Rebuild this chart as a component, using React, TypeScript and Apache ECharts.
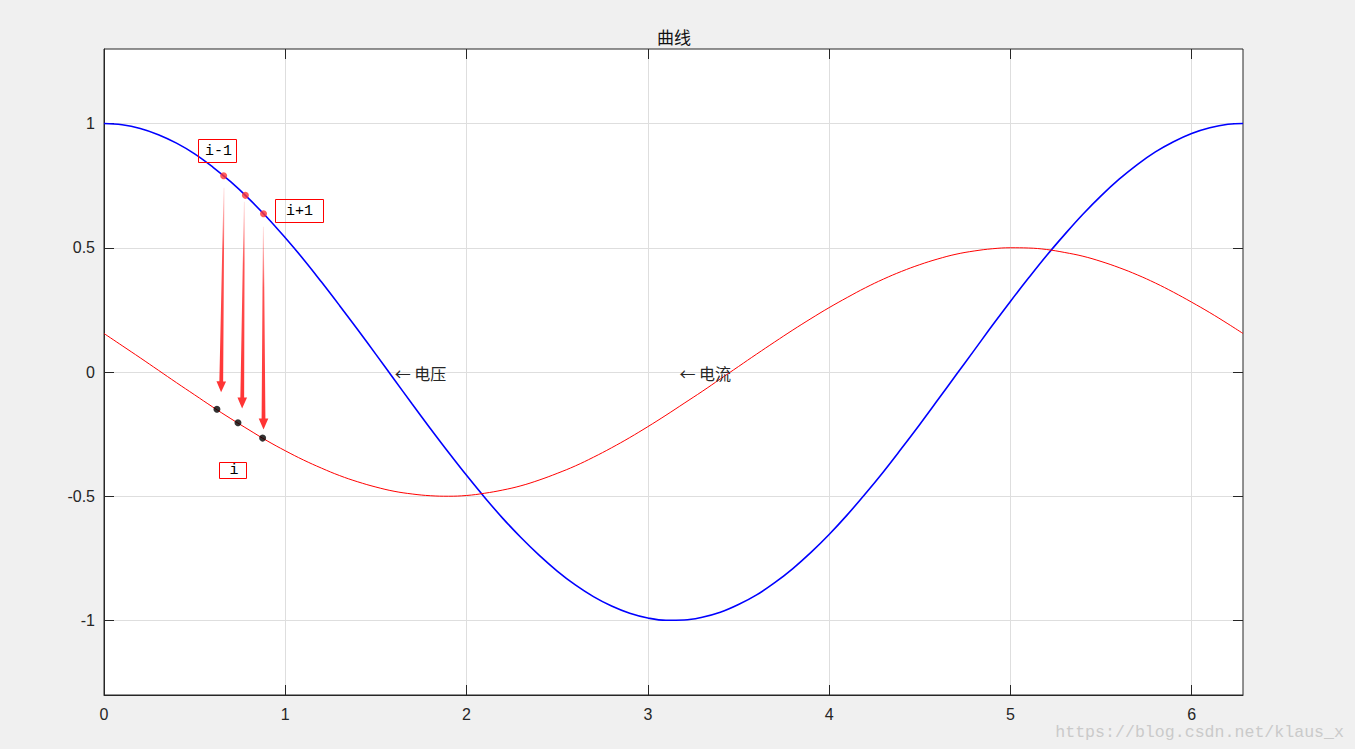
import { useEffect, useRef } from "react";
import * as echarts from "echarts";

const X = [
  0, 0.1, 0.2, 0.3, 0.4, 0.5, 0.6, 0.7, 0.8, 0.9, 1.0, 1.1, 1.2, 1.3, 1.4, 1.5,
  1.6, 1.7, 1.8, 1.9, 2.0, 2.1, 2.2, 2.3, 2.4, 2.5, 2.6, 2.7, 2.8, 2.9, 3.0, 3.1,
  3.2, 3.3, 3.4, 3.5, 3.6, 3.7, 3.8, 3.9, 4.0, 4.1, 4.2, 4.3, 4.4, 4.5, 4.6, 4.7,
  4.8, 4.9, 5.0, 5.1, 5.2, 5.3, 5.4, 5.5, 5.6, 5.7, 5.8, 5.9, 6.0, 6.1, 6.2, 6.2832,
];
// Blue curve (电压)
const VOLTAGE = [
  1.0, 0.995, 0.98, 0.955, 0.921, 0.878, 0.825, 0.765, 0.697, 0.622, 0.54, 0.454,
  0.362, 0.267, 0.17, 0.071, -0.029, -0.129, -0.227, -0.323, -0.416, -0.505, -0.589,
  -0.666, -0.737, -0.801, -0.857, -0.904, -0.942, -0.971, -0.99, -0.999, -0.998,
  -0.987, -0.967, -0.936, -0.897, -0.848, -0.791, -0.726, -0.654, -0.575, -0.49,
  -0.401, -0.307, -0.211, -0.112, -0.012, 0.087, 0.187, 0.284, 0.378, 0.469, 0.554,
  0.635, 0.709, 0.776, 0.835, 0.886, 0.927, 0.96, 0.983, 0.997, 1.0,
];
// Red curve (电流)
const CURRENT = [
  0.155, 0.106, 0.057, 0.007, -0.043, -0.092, -0.141, -0.188, -0.233, -0.277, -0.317,
  -0.354, -0.387, -0.417, -0.442, -0.463, -0.48, -0.491, -0.498, -0.5, -0.497, -0.488,
  -0.475, -0.458, -0.435, -0.408, -0.378, -0.343, -0.305, -0.264, -0.22, -0.174,
  -0.126, -0.078, -0.028, 0.022, 0.072, 0.121, 0.169, 0.215, 0.259, 0.3, 0.339,
  0.374, 0.405, 0.432, 0.455, 0.474, 0.487, 0.496, 0.5, 0.499, 0.493, 0.481, 0.466,
  0.445, 0.42, 0.391, 0.358, 0.321, 0.281, 0.239, 0.194, 0.155,
];

const X_MIN = 0;
const X_MAX = 6.2832;
const Y_MIN = -1.3;
const Y_MAX = 1.3;
const X_TICKS = [0, 1, 2, 3, 4, 5, 6];
const Y_TICKS = [-1, -0.5, 0, 0.5, 1];

// Marked samples
const ON_VOLTAGE_X = [0.66, 0.78, 0.88];
const ON_VOLTAGE_Y = [0.79, 0.711, 0.637];
const ON_CURRENT_X = [0.623, 0.739, 0.875];
const ON_CURRENT_Y = [-0.15, -0.204, -0.266];

// Arrows (data coordinates)
const ARROW_FROM_X = [0.662, 0.774, 0.879];
const ARROW_FROM_Y = [0.742, 0.685, 0.585];
const ARROW_TO_X = [0.646, 0.762, 0.88];
const ARROW_TO_Y = [-0.082, -0.147, -0.231];

// Boxed labels
const BOX_LABELS = ["i-1", "i+1", "i"];
const BOX_X = [0.626, 1.073, 0.711];
const BOX_Y = [0.89, 0.65, -0.393];

// Curve labels
const CURVE_LABELS = ["\u2190 电压", "\u2190 电流"];
const CURVE_LABEL_X = [1.571, 3.1416];
const CURVE_LABEL_Y = [0, 0];

const TITLE = "曲线";
const WATERMARK = "https://blog.csdn.net/klaus_x";

// styling (pixel sizes of the boxes)
const BOX_SIZE = [
  [38, 23],
  [48, 23],
  [27, 16],
];

const AXIS_COLOR = "#262626";
const GRID_COLOR = "#dedede";
const ARROW_COLOR = "#ff3333";

export default function App() {
  const ref = useRef<HTMLDivElement>(null);

  useEffect(() => {
    if (!ref.current) return;
    const chart = echarts.init(ref.current, undefined, { renderer: "svg" });

    const labelFont = { color: AXIS_COLOR, fontSize: 16, fontFamily: "Liberation Sans" };

    const mainX = {
      type: "value",
      min: X_MIN,
      max: X_MAX,
      position: "bottom",
      axisLine: { show: true, onZero: false, lineStyle: { color: AXIS_COLOR, width: 1 } },
      axisTick: { show: true, inside: true, length: 10, customValues: X_TICKS, lineStyle: { color: AXIS_COLOR } },
      axisLabel: { ...labelFont, customValues: X_TICKS, margin: 11 },
      splitLine: { show: true, lineStyle: { color: GRID_COLOR, width: 1 } },
    };
    const topX = {
      type: "value",
      min: X_MIN,
      max: X_MAX,
      position: "top",
      axisLine: { show: false, onZero: false },
      axisTick: { show: true, inside: true, length: 10, customValues: X_TICKS, lineStyle: { color: AXIS_COLOR } },
      axisLabel: { show: false, customValues: X_TICKS },
      splitLine: { show: false },
    };
    const mainY = {
      type: "value",
      min: Y_MIN,
      max: Y_MAX,
      position: "left",
      axisLine: { show: true, onZero: false, lineStyle: { color: AXIS_COLOR, width: 1 } },
      axisTick: { show: true, inside: true, length: 10, customValues: Y_TICKS, lineStyle: { color: AXIS_COLOR } },
      axisLabel: { ...labelFont, customValues: Y_TICKS, margin: 9 },
      splitLine: { show: true, lineStyle: { color: GRID_COLOR, width: 1 } },
    };
    const rightY = {
      type: "value",
      min: Y_MIN,
      max: Y_MAX,
      position: "right",
      axisLine: { show: false, onZero: false },
      axisTick: { show: true, inside: true, length: 10, customValues: Y_TICKS, lineStyle: { color: AXIS_COLOR } },
      axisLabel: { show: false, customValues: Y_TICKS },
      splitLine: { show: false },
    };

    const arrowData = ARROW_FROM_X.map((x, i) => [x, ARROW_FROM_Y[i], ARROW_TO_X[i], ARROW_TO_Y[i]]);

    const option: any = {
      animation: false,
      backgroundColor: "#f0f0f0",
      grid: {
        left: 104,
        right: 112,
        top: 49,
        bottom: 54,
        show: true,
        backgroundColor: "#ffffff",
        borderColor: AXIS_COLOR,
        borderWidth: 1,
      },
      xAxis: [mainX, topX],
      yAxis: [mainY, rightY],
      graphic: [
        {
          type: "text",
          x: 674,
          y: 36,
          style: {
            text: TITLE,
            font: '17px "Noto Sans CJK SC"',
            fill: "#111111",
            textAlign: "center",
            textVerticalAlign: "middle",
            align: "center",
            verticalAlign: "middle",
          },
        },
        {
          type: "text",
          x: 1344,
          y: 732,
          style: {
            text: WATERMARK,
            font: '16.6px "Liberation Mono"',
            fill: "#cacaca",
            textAlign: "right",
            textVerticalAlign: "middle",
            align: "right",
            verticalAlign: "middle",
          },
        },
      ],
      series: [
        {
          name: "电压",
          type: "line",
          data: X.map((x, i) => [x, VOLTAGE[i]]),
          showSymbol: false,
          symbol: "none",
          smooth: 0.4,
          lineStyle: { color: "#0000ff", width: 1.6 },
          silent: true,
          z: 3,
        },
        {
          name: "电流",
          type: "line",
          data: X.map((x, i) => [x, CURRENT[i]]),
          showSymbol: false,
          symbol: "none",
          smooth: 0.4,
          lineStyle: { color: "#ff0000", width: 1 },
          silent: true,
          z: 3,
        },
        {
          type: "custom",
          data: arrowData,
          encode: { x: [0, 2], y: [1, 3] },
          silent: true,
          z: 4,
          renderItem: (_params: any, api: any) => {
            const a = api.coord([api.value(0), api.value(1)]);
            const b = api.coord([api.value(2), api.value(3)]);
            const dx = b[0] - a[0];
            const dy = b[1] - a[1];
            const L = Math.hypot(dx, dy);
            const ux = dx / L;
            const uy = dy / L;
            const nx = -uy;
            const ny = ux;
            const headLen = 11;
            const headHalf = 4.8;
            const s0 = 0.4;
            const s1 = 1.9;
            const bx = b[0] - ux * headLen;
            const by = b[1] - uy * headLen;
            const pts = [
              [a[0] + nx * s0, a[1] + ny * s0],
              [bx + nx * s1, by + ny * s1],
              [bx + nx * headHalf, by + ny * headHalf],
              [b[0], b[1]],
              [bx - nx * headHalf, by - ny * headHalf],
              [bx - nx * s1, by - ny * s1],
              [a[0] - nx * s0, a[1] - ny * s0],
            ];
            return {
              type: "polygon",
              shape: { points: pts },
              style: {
                fill: new echarts.graphic.LinearGradient(0, 0, 0, 1, [
                  { offset: 0, color: "rgba(255,51,51,0.15)" },
                  { offset: 0.3, color: "rgba(255,51,51,0.85)" },
                  { offset: 1, color: ARROW_COLOR },
                ]),
                stroke: null,
              },
            };
          },
        },
        {
          type: "scatter",
          data: ON_VOLTAGE_X.map((x, i) => [x, ON_VOLTAGE_Y[i]]),
          symbol: "circle",
          symbolSize: 7,
          itemStyle: { color: ARROW_COLOR },
          silent: true,
          z: 5,
        },
        {
          type: "scatter",
          data: ON_CURRENT_X.map((x, i) => [x, ON_CURRENT_Y[i]]),
          symbol: "circle",
          symbolSize: 7,
          itemStyle: { color: "#000000" },
          silent: true,
          z: 5,
        },
        {
          type: "custom",
          data: BOX_X.map((x, i) => [x, BOX_Y[i]]),
          silent: true,
          z: 6,
          renderItem: (params: any, api: any) => {
            const i = params.dataIndex;
            const p = api.coord([api.value(0), api.value(1)]);
            const [w, h] = BOX_SIZE[i];
            const left = Math.round(p[0] - w / 2) + 0.5;
            const top = Math.round(p[1] - h / 2) + 0.5;
            return {
              type: "group",
              children: [
                {
                  type: "rect",
                  shape: { x: left, y: top, width: w, height: h },
                  style: { fill: "none", stroke: "#ff0000", lineWidth: 1 },
                },
                {
                  type: "text",
                  x: p[0] + 1,
                  y: p[1] + 1,
                  style: {
                    text: BOX_LABELS[i],
                    font: '15px "Liberation Mono"',
                    fill: "#000000",
                    textAlign: "center",
                    textVerticalAlign: "middle",
                    align: "center",
                    verticalAlign: "middle",
                  },
                },
              ],
            };
          },
        },
        {
          type: "custom",
          data: CURVE_LABEL_X.map((x, i) => [x, CURVE_LABEL_Y[i]]),
          silent: true,
          z: 6,
          renderItem: (params: any, api: any) => {
            const i = params.dataIndex;
            const p = api.coord([api.value(0), api.value(1)]);
            return {
              type: "text",
              x: p[0] + 6,
              y: p[1] + 1,
              style: {
                text: CURVE_LABELS[i],
                font: '16px "Noto Sans CJK SC"',
                fill: "#262626",
                textAlign: "left",
                textVerticalAlign: "middle",
                align: "left",
                verticalAlign: "middle",
              },
            };
          },
        },
      ],
    };

    chart.setOption(option);
    return () => chart.dispose();
  }, []);

  return (
    <div
      ref={ref}
      style={{ position: "absolute", left: 0, top: 0, width: 1355, height: 749 }}
    />
  );
}
